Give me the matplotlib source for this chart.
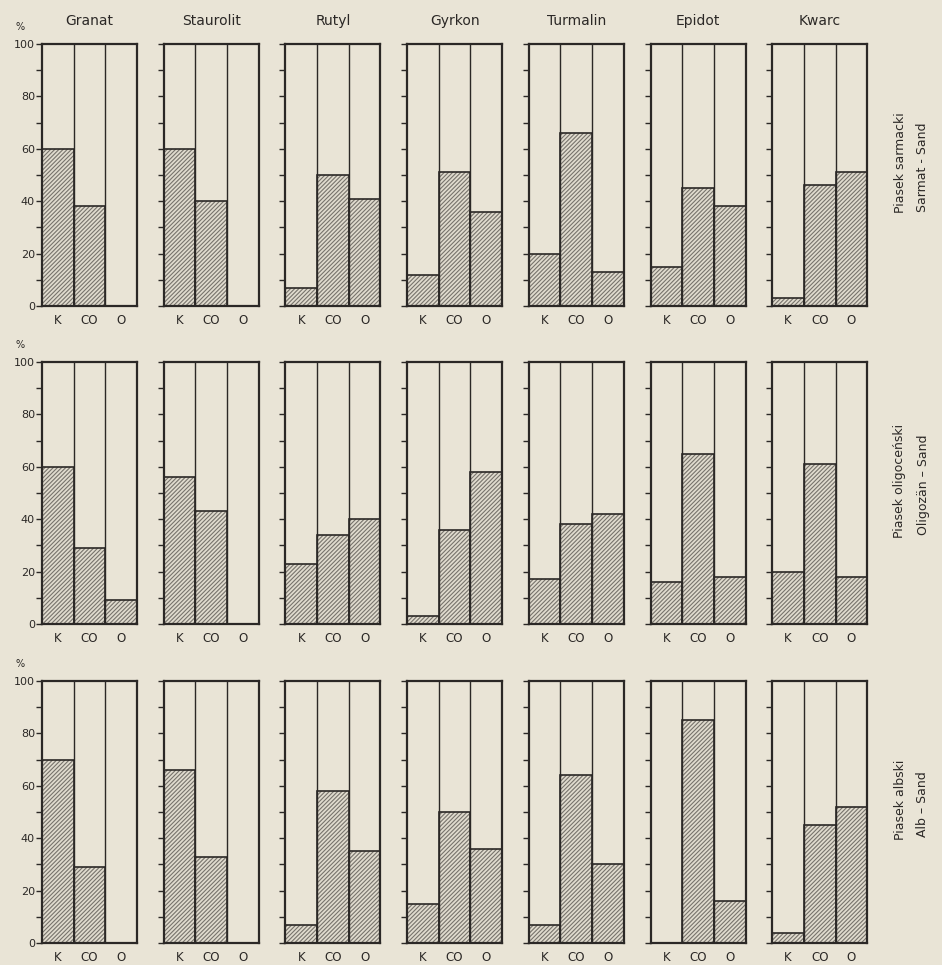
"""Heavy mineral fractions (K / CO / O) for three sand types, small multiples"""

import numpy as np
import matplotlib.pyplot as plt

MINERALS = ["Granat", "Staurolit", "Rutyl", "Gyrkon", "Turmalin", "Epidot", "Kwarc"]
FRACTIONS = ["K", "CO", "O"]

# percent per fraction (K, CO, O) for each mineral
SARMAT = [[60, 38, 0], [60, 40, 0], [7, 50, 41], [12, 51, 36],
          [20, 66, 13], [15, 45, 38], [3, 46, 51]]
OLIGOZAN = [[60, 29, 9], [56, 43, 0], [23, 34, 40], [3, 36, 58],
            [17, 38, 42], [16, 65, 18], [20, 61, 18]]
ALB = [[70, 29, 0], [66, 33, 0], [7, 58, 35], [15, 50, 36],
       [7, 64, 30], [0, 85, 16], [4, 45, 52]]

ROWS = [SARMAT, OLIGOZAN, ALB]
ROW_LABELS = [("Piasek sarmacki", "Sarmat - Sand"),
              ("Piasek oligoceński", "Oligozän – Sand"),
              ("Piasek albski", "Alb – Sand")]

BG = "#e9e4d6"
INK = "#2b2826"
HATCH = "#77736c"

plt.rcParams["hatch.linewidth"] = 0.8

W, H = 942, 965
fig = plt.figure(figsize=(W / 100, H / 100), dpi=100, facecolor=BG)

lefts = [42 + i * 121.7 for i in range(7)]
tops = [44, 362, 681]
pw, ph = 95, 262

for r, data in enumerate(ROWS):
    for c, vals in enumerate(data):
        ax = fig.add_axes([lefts[c] / W, 1 - (tops[r] + ph) / H, pw / W, ph / H])
        ax.set_facecolor(BG)
        x = np.arange(3)
        # hatch layer (hatch takes the edge colour), then the dark outline
        ax.bar(x, vals, width=1.0, color="#e0dbce", edgecolor=HATCH, linewidth=0,
               hatch="////////")
        ax.bar(x, vals, width=1.0, fill=False, edgecolor=INK, linewidth=1.2)
        for xv in (0.5, 1.5):
            ax.axvline(xv, color=INK, lw=1.0)
        ax.set_xlim(-0.5, 2.5)
        ax.set_ylim(0, 100)
        for s in ax.spines.values():
            s.set_linewidth(1.6)
            s.set_color(INK)
        ax.set_xticks(x)
        ax.set_xticklabels(FRACTIONS, fontsize=8.5, color=INK)
        ax.tick_params(axis="x", length=0, pad=6)
        ax.set_yticks(np.arange(0, 101, 20))
        ax.set_yticks(np.arange(10, 100, 20), minor=True)
        ax.tick_params(axis="y", which="both", direction="out", length=4,
                       width=1.0, color=INK, labelsize=8, labelcolor=INK, pad=1)
        if c == 0:
            ax.text(-0.28, 1.045, "%", transform=ax.transAxes, fontsize=7,
                    color=INK, ha="left", va="bottom")
        else:
            ax.set_yticklabels([])
        if r == 0:
            ax.set_title(MINERALS[c], fontsize=10, color=INK, pad=14)

    pl, de = ROW_LABELS[r]
    cy = tops[r] + ph / 2
    fig.text(900 / W, 1 - (cy - 12) / H, pl, rotation=90, ha="center",
             va="center", fontsize=9, color=INK)
    fig.text(923 / W, 1 - (cy - 8) / H, de, rotation=90, ha="center",
             va="center", fontsize=9, color=INK)

fig.savefig("out.png", dpi=100, facecolor=BG)
